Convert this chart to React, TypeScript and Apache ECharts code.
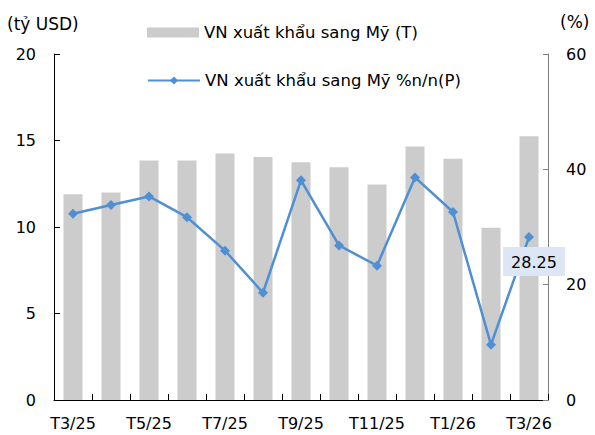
import React, { useEffect, useRef } from "react";
import * as echarts from "echarts";

const categories = ["T3/25", "T4/25", "T5/25", "T6/25", "T7/25", "T8/25", "T9/25", "T10/25", "T11/25", "T12/25", "T1/26", "T2/26", "T3/26"];
const exportValues = [11.9, 12.0, 13.85, 13.85, 14.25, 14.05, 13.75, 13.45, 12.45, 14.65, 13.95, 9.95, 15.25];
const yoyValues = [32.3, 33.8, 35.3, 31.7, 25.9, 18.6, 38.1, 26.8, 23.3, 38.6, 32.6, 9.6, 28.25];
const leftTicks = { min: 0, max: 20, interval: 5 };
const rightTicks = { min: 0, max: 60, interval: 20 };
const barName = "VN xuất khẩu sang Mỹ (T)";
const lineName = "VN xuất khẩu sang Mỹ %n/n(P)";

const FONT = "DejaVu Sans";

export default function App() {
  const ref = useRef<HTMLDivElement>(null);
  useEffect(() => {
    if (!ref.current) return;
    const chart = echarts.init(ref.current, null, { renderer: "svg" });
    const lineData = yoyValues.map((v, i) =>
      i === yoyValues.length - 1
        ? {
            value: v,
            label: {
              show: true,
              position: "bottom",
              distance: 5,
              offset: [5, 0],
              formatter: "{c}",
              backgroundColor: "#dce6f4",
              padding: [7, 8, 6, 8],
              color: "#000",
              fontFamily: FONT,
              fontSize: 16,
            },
          }
        : v
    );
    chart.setOption({
      animation: false,
      textStyle: { fontFamily: FONT },
      grid: { left: 54, right: 47, top: 54, bottom: 35, containLabel: false },
      legend: [
        {
          data: [{ name: barName, icon: "rect" }],
          left: 147,
          top: 24,
          padding: 0,
          itemWidth: 52,
          itemHeight: 10,
          textStyle: { fontFamily: FONT, fontSize: 16.5, color: "#000" },
        },
        {
          data: [{ name: lineName }],
          left: 147,
          top: 72,
          padding: 0,
          itemWidth: 52,
          itemHeight: 10,
          textStyle: { fontFamily: FONT, fontSize: 16.5, color: "#000" },
        },
      ],
      graphic: [
        { type: "text", left: 7, top: 15, style: { text: "(tỷ USD)", fontFamily: FONT, fontSize: 17, fill: "#000" } },
        { type: "text", left: 560, top: 13, style: { text: "(%)", fontFamily: FONT, fontSize: 17, fill: "#000" } },
      ],
      xAxis: {
        type: "category",
        data: categories,
        boundaryGap: true,
        axisLine: { lineStyle: { color: "#000", width: 1 } },
        axisTick: { show: true, inside: true, interval: 0, length: 6, lineStyle: { color: "#000" } },
        axisLabel: { interval: 1, color: "#000", fontSize: 16, fontFamily: FONT, margin: 15 },
      },
      yAxis: [
        {
          type: "value",
          ...leftTicks,
          splitLine: { show: false },
          axisLine: { show: true, lineStyle: { color: "#000" } },
          axisTick: { show: true, inside: true, length: 6, lineStyle: { color: "#000" } },
          axisLabel: { color: "#000", fontSize: 16, fontFamily: FONT, margin: 18 },
        },
        {
          type: "value",
          ...rightTicks,
          splitLine: { show: false },
          axisLine: { show: true, lineStyle: { color: "#808080" } },
          axisTick: { show: true, inside: true, length: 5, lineStyle: { color: "#808080" } },
          axisLabel: { color: "#000", fontSize: 16, fontFamily: FONT, margin: 18 },
        },
      ],
      series: [
        {
          name: barName,
          type: "bar",
          data: exportValues,
          barWidth: "50%",
          itemStyle: { color: "#cccccc" },
          yAxisIndex: 0,
        },
        {
          name: lineName,
          type: "line",
          data: lineData,
          yAxisIndex: 1,
          symbol: "diamond",
          symbolSize: 10,
          lineStyle: { color: "#4f8fd4", width: 2.5 },
          itemStyle: { color: "#4f8fd4" },
        },
      ],
    });
    return () => chart.dispose();
  }, []);
  return <div ref={ref} style={{ width: 595, height: 435, position: "absolute", left: 0, top: 0 }} />;
}
